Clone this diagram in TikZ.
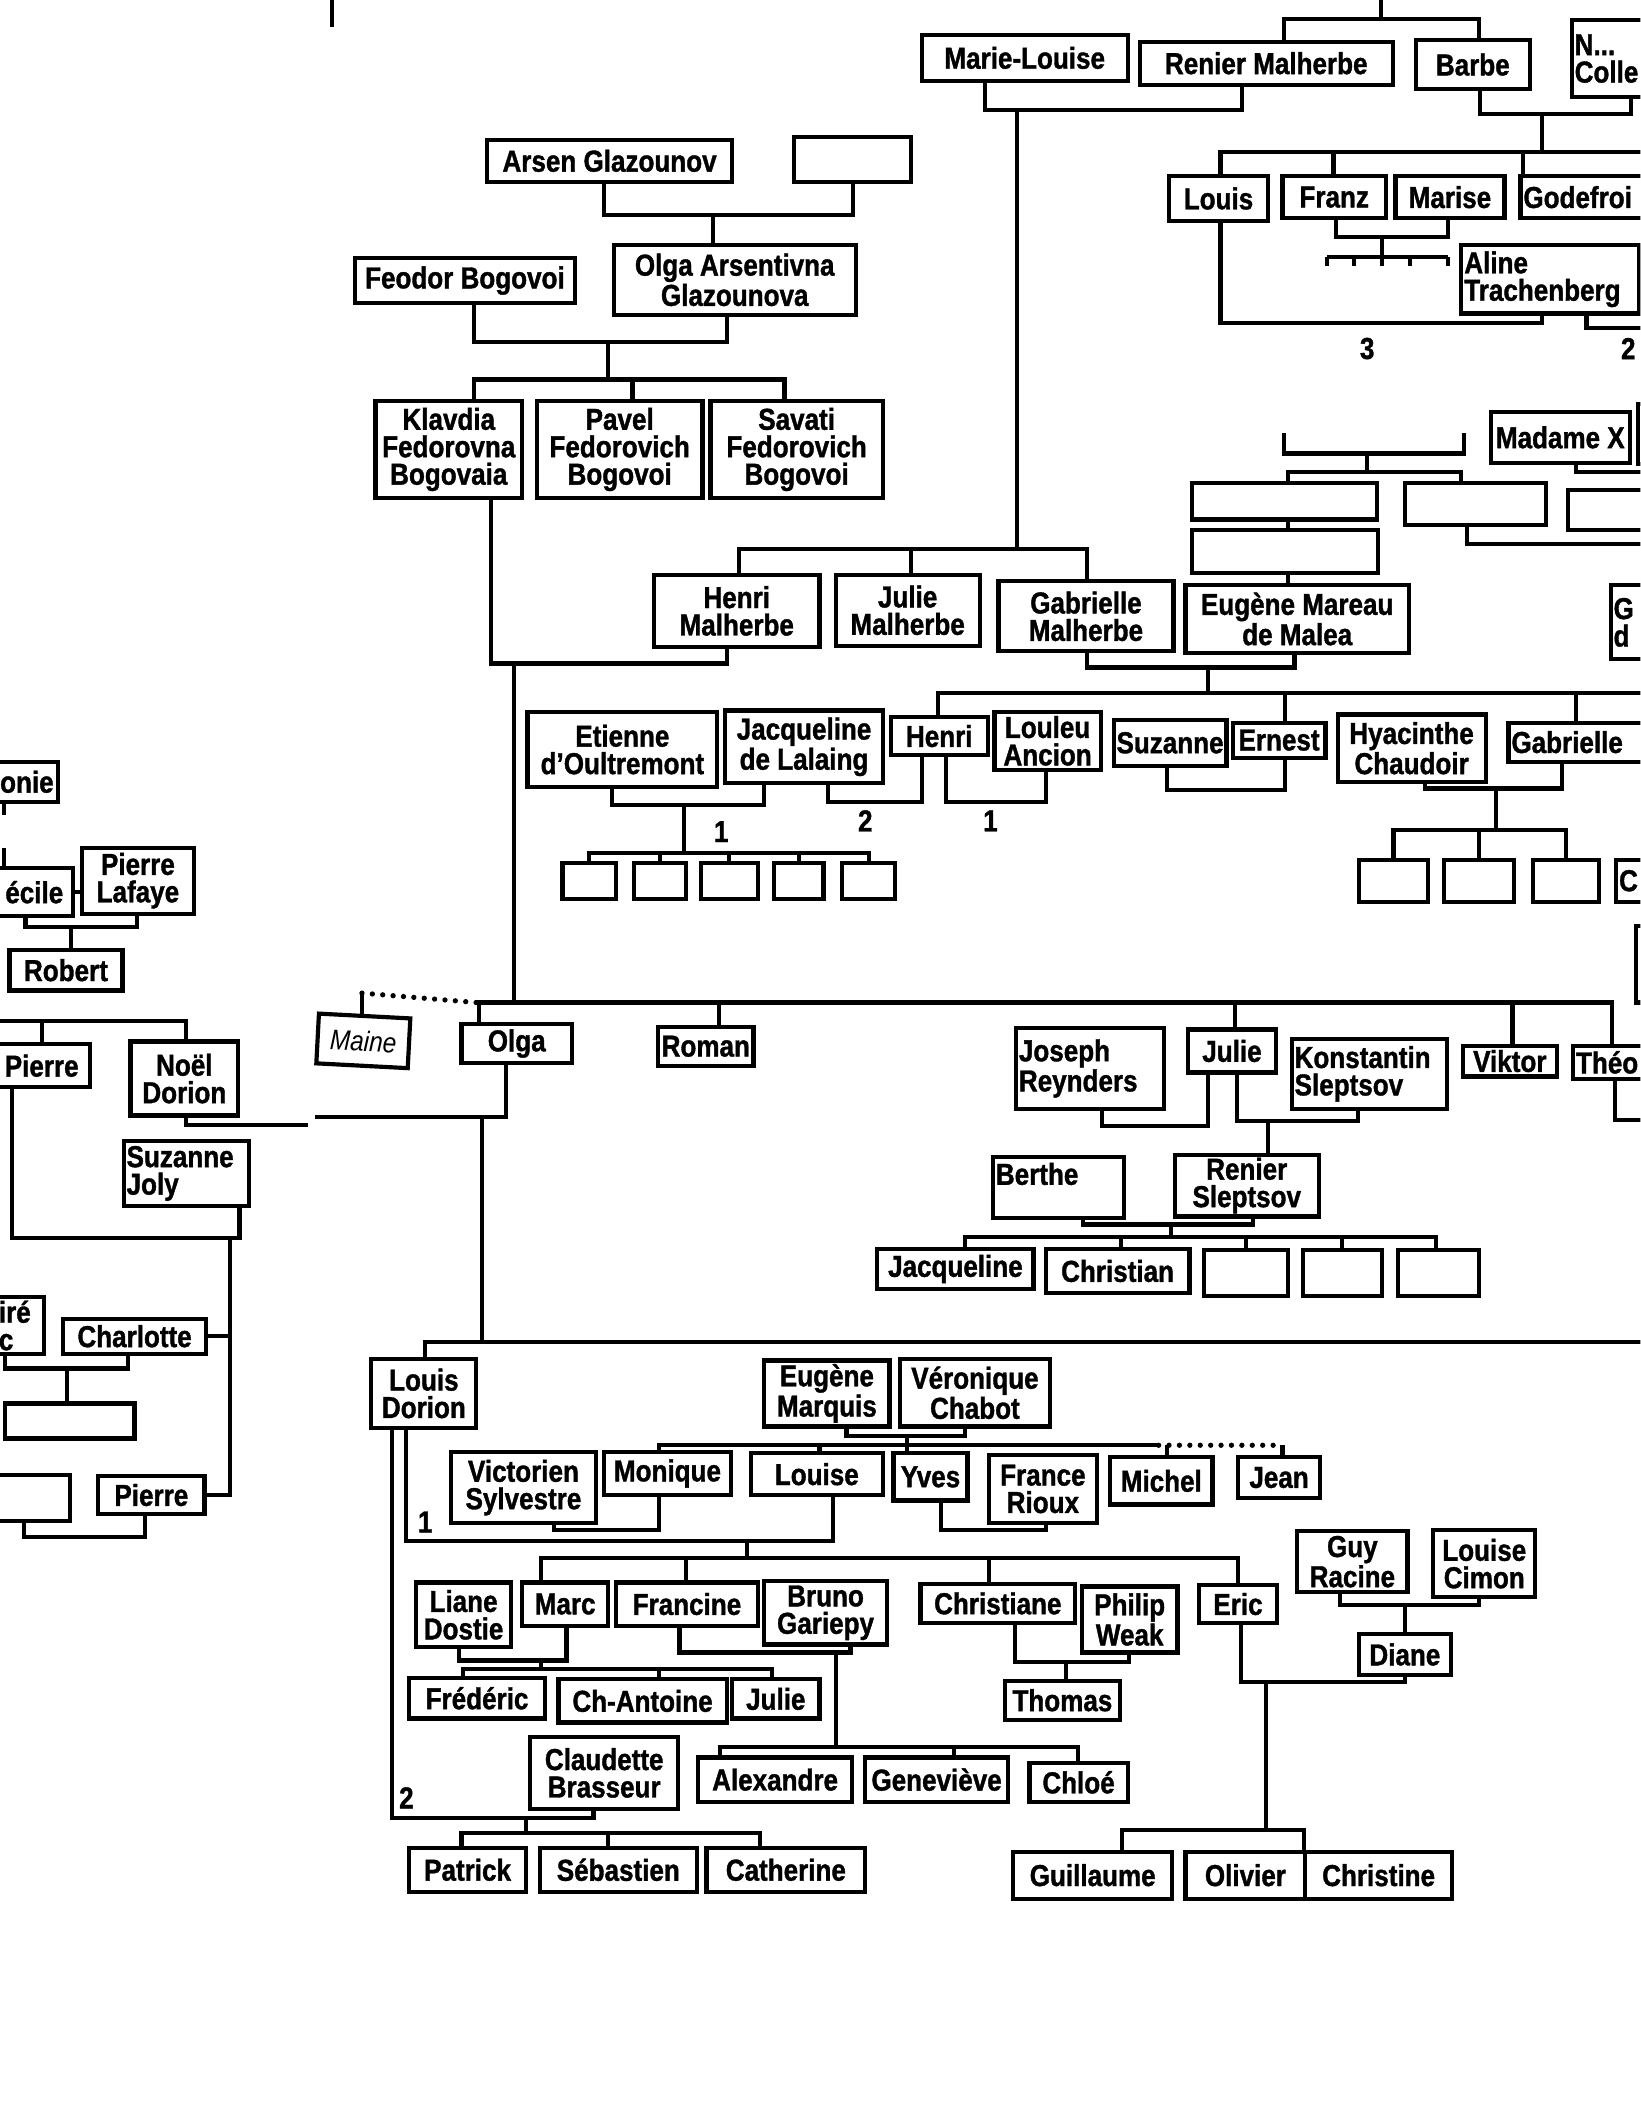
\documentclass[tikz,border=0pt]{standalone}
\usepackage{fontspec}
\setmainfont{Liberation Sans}[FakeStretch=0.86,BoldFeatures={FakeBold=1.2}]
\newcommand\namefont{\bfseries\fontsize{16}{14.5}\selectfont}
\newcommand\tightfont{\bfseries\fontsize{16}{13.5}\selectfont}
\newcommand\mainefont{\normalfont\itshape\fontsize{15}{15}\selectfont}
\newcommand\pers[7][]{%
  \pgfmathsetmacro\boxw{((#5)-(#3))*0.025}%
  \pgfmathsetmacro\boxh{((#6)-(#4))*0.025}%
  \node[person,minimum width=\boxw cm,minimum height=\boxh cm,#1] (#2) at ({((#3)+(#5))/2},{((#4)+(#6))/2}) {#7};}
\begin{document}
\begin{tikzpicture}
[x=0.025cm,y=-0.025cm,line width=2.2pt,
 person/.style={draw,line width=2.2pt,inner xsep=1.5pt,inner ysep=1pt,align=center,font=\namefont},
 num/.style={font=\namefont,inner sep=0pt},
 dotline/.style={line width=2.8pt,dash pattern=on 0pt off 5.5pt,line cap=round}]
\useasboundingbox (0,0) rectangle (1219,1568);
\clip (0,0) rectangle (1219,1568);
% Glazounov - Bogovoi
\pers{arsen}{362}{104}{544}{135}{Arsen Glazounov}
\pers{arsenw}{590}{102}{677}{135}{}
\pers{olgaag}{456}{182}{636}{234}{Olga Arsentivna\\Glazounova}
\pers{feodor}{264}{192}{427}{225}{Feodor Bogovoi}
\pers{klavdia}{279}{298}{388}{370}{Klavdia\\Fedorovna\\Bogovaia}
\pers{pavel}{399}{298}{522}{370}{Pavel\\Fedorovich\\Bogovoi}
\pers{savati}{528}{298}{656}{370}{Savati\\Fedorovich\\Bogovoi}
% Malherbe, top right
\coordinate (top) at (1026,0);
\pers{marielouise}{685}{26}{838}{60}{Marie-Louise}
\pers{renier}{847}{31}{1035}{63}{Renier Malherbe}
\pers{barbe}{1052}{30}{1137}{66}{Barbe}
\pers[text width=1.94cm,align=left]{ncolle}{1168}{15}{1250}{72}{N...\\Colle}
\pers{louis}{869}{131}{942}{164}{Louis}
\pers{franz}{953}{131}{1030}{162}{Franz}
\pers{marise}{1037}{131}{1118}{162}{Marise}
\pers[text width=2.77cm,align=left]{godefroi}{1130}{131}{1245}{162}{Godefroi}
\pers[text width=3.19cm,align=left]{aline}{1086}{182}{1218}{233}{Aline\\Trachenberg}
\pers{madamex}{1108}{306}{1211}{344}{Madame X}
\pers{offr1}{1217}{300}{1245}{345}{}
\pers{blank1}{886}{359}{1023}{386}{}
\pers{blank2}{1044}{359}{1149}{390}{}
\pers{blank3}{1165}{364}{1245}{394}{}
\pers{blank4}{886}{394}{1024}{426}{}
\pers{henrim}{486}{427}{609}{481}{Henri\\Malherbe}
\pers{juliem}{621}{427}{728}{480}{Julie\\Malherbe}
\pers{gabriellem}{742}{432}{872}{484}{Gabrielle\\Malherbe}
\pers{eugenem}{881}{435}{1047}{485}{Eugène Mareau\\de Malea}
\pers[text width=1.22cm,align=left]{gright}{1197}{435}{1250}{490}{G\\d}
\pers{etienne}{392}{529}{533}{585}{Etienne\\d'Oultremont}
\pers{jacquelinel}{539}{528}{656}{582}{Jacqueline\\de Lalaing}
\pers{henri}{662}{533}{734}{561}{Henri}
\pers{louleu}{739}{529}{818}{572}{Louleu\\Ancion}
\pers{suzanne}{828}{535}{911}{569}{Suzanne}
\pers{ernest}{916}{537}{985}{563}{Ernest}
\pers{hyacinthe}{994}{531}{1104}{581}{Hyacinthe\\Chaudoir}
\pers[text width=2.99cm,align=left]{gabrieller}{1121}{537}{1245}{566}{Gabrielle}
\foreach \i/\a/\b in {1/418/458,2/471/510,3/521/563,4/575/612,5/626/665} {\pers{eb\i}{\a}{641}{\b}{668}{}}
\foreach \i/\a/\b in {1/1010/1061,2/1073/1125,3/1139/1188} {\pers{hb\i}{\a}{639}{\b}{670}{}}
\pers[text width=0.99cm,align=left]{hbc}{1201}{639}{1245}{670}{C}
\pers{offr2}{1216}{688}{1245}{745}{}
% generation of Olga
\pers[rotate=-3,font=\mainefont]{maine}{236}{755}{304}{792}{Maine}
\pers{olga}{343}{761}{425}{790}{Olga}
\pers{roman}{489}{763}{560}{792}{Roman}
\pers[text width=2.64cm,align=left]{joseph}{755}{764}{865}{824}{Joseph\\Reynders}
\pers{julie}{883}{765}{948}{797}{Julie}
\pers[text width=2.77cm,align=left]{konstantin}{960}{772}{1075}{824}{Konstantin\\Sleptsov}
\pers{viktor}{1087}{777}{1157}{800}{Viktor}
\pers[text width=1.79cm,align=left]{theo}{1169}{777}{1245}{802}{Théo}
\pers[text width=2.32cm,align=left]{berthe}{738}{860}{835}{905}{Berthe\\~}
\pers{reniers}{873}{858}{980}{904}{Renier\\Sleptsov}
\pers{jacqueline}{652}{928}{768}{958}{Jacqueline}
\pers{christian}{777}{928}{884}{961}{Christian}
\foreach \i/\a/\b in {1/895/957,2/968/1027,3/1039/1099} {\pers{cb\i}{\a}{929}{\b}{963}{}}
% left column
\pers{onie}{-3}{566}{43}{596}{onie}
\pers{cecile}{-3}{645}{54}{681}{écile}
\pers{pierrel}{61}{630}{144}{679}{Pierre\\Lafaye}
\pers{robert}{7}{706}{91}{736}{Robert}
\pers{pierrea}{-5}{776}{67}{808}{Pierre}
\pers{noel}{97}{774}{177}{829}{Noël\\Dorion}
\pers[text width=2.22cm,align=left]{suzannej}{92}{848}{185}{896}{Suzanne\\Joly}
\pers[text width=0.79cm,align=left]{ire}{-3}{964}{33}{1006}{iré\\c}
\pers{charlotte}{47}{980}{153}{1006}{Charlotte}
\pers{lb1}{4}{1043}{100}{1069}{}
\pers{lb2}{-5}{1096}{52}{1130}{}
\pers{pierreb}{73}{1097}{152}{1125}{Pierre}
% Dorion
\pers{louisd}{276}{1010}{354}{1061}{Louis\\Dorion}
\pers{eugenemq}{568}{1011}{661}{1060}{Eugène\\Marquis}
\pers{veronique}{669}{1010}{780}{1060}{Véronique\\Chabot}
\pers{victorien}{335}{1079}{443}{1132}{Victorien\\Sylvestre}
\pers{monique}{449}{1079}{543}{1111}{Monique}
\pers{louise}{558}{1080}{656}{1111}{Louise}
\pers{yves}{664}{1080}{719}{1115}{Yves}
\pers{france}{735}{1081}{815}{1132}{France\\Rioux}
\pers{michel}{825}{1083}{901}{1118}{Michel}
\pers{jean}{920}{1083}{981}{1113}{Jean}
\pers{liane}{309}{1176}{380}{1224}{Liane\\Dostie}
\pers{marc}{388}{1176}{452}{1208}{Marc}
\pers{francine}{458}{1176}{563}{1208}{Francine}
\pers{bruno}{568}{1175}{659}{1222}{Bruno\\Gariepy}
\pers{christiane}{684}{1177}{799}{1206}{Christiane}
\pers{philip}{804}{1179}{875}{1228}{Philip\\Weak}
\pers{eric}{891}{1178}{949}{1206}{Eric}
\pers[font=\tightfont]{guy}{964}{1138}{1046}{1183}{Guy\\Racine}
\pers{louisec}{1065}{1137}{1141}{1187}{Louise\\Cimon}
\pers{diane}{1010}{1214}{1078}{1245}{Diane}
\pers{frederic}{304}{1247}{405}{1277}{Frédéric}
\pers{chantoine}{415}{1248}{540}{1280}{Ch-Antoine}
\pers{juliec}{544}{1248}{609}{1277}{Julie}
\pers{thomas}{747}{1249}{832}{1278}{Thomas}
\pers{claudette}{394}{1291}{504}{1344}{Claudette\\Brasseur}
\pers{alexandre}{519}{1306}{633}{1339}{Alexandre}
\pers{genevieve}{643}{1306}{749}{1339}{Geneviève}
\pers{chloe}{765}{1310}{838}{1339}{Chloé}
\pers{patrick}{304}{1373}{391}{1406}{Patrick}
\pers{sebastien}{401}{1373}{518}{1406}{Sébastien}
\pers{catherine}{525}{1373}{643}{1406}{Catherine}
\pers{guillaume}{753}{1376}{871}{1411}{Guillaume}
\pers{olivier}{881}{1376}{970}{1411}{Olivier}
\pers{christine}{970}{1376}{1079}{1411}{Christine}
% connectors, top left
\draw (247,0) -- (247,20);
\draw (449,0 |- arsen.south) |- (634,160) -- (634,0 |- arsenw.south);
\draw (530,160) -- (530,0 |- olgaag.north);
\draw (352,0 |- feodor.south) |- (540,254) -- (540,0 |- olgaag.south);
\draw (452,254) -- (452,282);
\draw (352,0 |- klavdia.north) |- (583,282) -- (583,0 |- savati.north);
\draw (470,282) -- (470,0 |- pavel.north);
% connectors, top right
\draw (top) -- (1026,14);
\draw (954,0 |- renier.north) |- (1099,14) -- (1099,0 |- barbe.north);
\draw (732,0 |- marielouise.south) |- (923,82) -- (923,0 |- renier.south);
\draw (1100,0 |- barbe.south) |- (1212,85) -- (1212,0 |- ncolle.south);
\draw (1146,85) -- (1146,113);
\draw (907,0 |- louis.north) |- (1225,113);
\draw (991,113) -- (991,0 |- franz.north);
\draw (1132,113) -- (1132,0 |- godefroi.north);
\draw (993,0 |- franz.south) |- (1076,176) -- (1076,0 |- marise.south);
\draw (1027,176) -- (1027,191);
\draw (986,191) -- (1076,191);
\foreach \t in {986,1006,1027,1048,1076} \draw (\t,191) -- (\t,198);
\draw (907,0 |- louis.south) |- (1146,240) -- (1146,0 |- aline.south);
\draw (1179,0 |- aline.south) |- (1225,244);
\node[num] (n3) at (1016,259) {3};
\node[num] (n2a) at (1210,259) {2};
\draw (954,322) |- (1088,337) -- (1088,322);
\draw (1016,337) -- (1016,351);
\draw (957,0 |- blank1.north) |- (1086,351) -- (1086,0 |- blank2.north);
\draw (957,0 |- blank1.south) -- (957,0 |- blank4.north);
\draw (957,0 |- blank4.south) -- (957,0 |- eugenem.north);
\draw (1171,0 |- madamex.south) |- (1225,351);
\draw (1090,0 |- blank2.south) |- (1225,404);
% connectors, Malherbe children
\draw (756,82) -- (756,408);
\draw (549,0 |- henrim.north) |- (808,408) -- (808,0 |- gabriellem.north);
\draw (677,408) -- (677,0 |- juliem.north);
\draw (365,0 |- klavdia.south) |- (540,493) -- (540,0 |- henrim.south);
\draw (382,493) -- (382,745);
\draw (808,0 |- gabriellem.south) |- (962,496) -- (962,0 |- eugenem.south);
\draw (898,496) -- (898,515);
\draw (697,0 |- henri.north) |- (1225,515);
\draw (955,515) -- (955,0 |- ernest.north);
\draw (1171,515) -- (1171,0 |- gabrieller.north);
\draw (455,0 |- etienne.south) |- (568,598) -- (568,0 |- jacquelinel.south);
\draw (508,598) -- (508,634);
\draw (eb1.north) |- (508,634) -| (eb5.north);
\foreach \b in {eb2,eb3,eb4} \draw (\b.north) -- (\b.north |- 0,634);
\draw (615,0 |- jacquelinel.south) |- (685,596) -- (685,0 |- henri.south);
\draw (703,0 |- henri.south) |- (777,596) -- (777,0 |- louleu.south);
\draw (867,0 |- suzanne.south) |- (955,587) -- (955,0 |- ernest.south);
\draw (1059,0 |- hyacinthe.south) |- (1161,586) -- (1161,0 |- gabrieller.south);
\draw (1112,586) -- (1112,617);
\draw (hb1.north) |- (1112,617) -| (hb3.north);
\draw (hb2.north) -- (hb2.north |- 0,617);
\node[num] (n1a) at (536,618) {1};
\node[num] (n2b) at (643,610) {2};
\node[num] (n1b) at (736,610) {1};
% connectors, Olga's generation
\draw (356,0 |- olga.north) |- (1198,745) -- (1198,0 |- theo.north);
\draw (534,745) -- (534,0 |- roman.north);
\draw (918,745) -- (918,0 |- julie.north);
\draw (1124,745) -- (1124,0 |- viktor.north);
\draw (269,0 |- maine.north) -- (269,738);
\draw[dotline] (269,738) -- (354,745);
\draw (1200,0 |- theo.south) |- (1225,832);
\draw (819,0 |- joseph.south) |- (898,837) -- (898,0 |- julie.south);
\draw (919,0 |- julie.south) |- (1009,833) -- (1009,0 |- konstantin.south);
\draw (942,833) -- (942,0 |- reniers.north);
\draw (805,0 |- berthe.south) |- (931,910) -- (931,0 |- reniers.south);
\draw (870,910) -- (870,919);
\draw (717,0 |- jacqueline.north) |- (1067,919) -- (1067,0 |- cb3.north);
\draw (833,919) -- (833,0 |- christian.north);
\draw (926,919) -- (926,0 |- cb1.north);
\draw (997,919) -- (997,0 |- cb2.north);
% connectors, left column
\draw (3,0 |- onie.south) -- (3,606);
\draw (3,0 |- cecile.north) -- (3,630);
\draw (cecile.east) -- (cecile.east -| pierrel.west);
\draw (19,0 |- cecile.south) |- (102,689) -- (102,0 |- pierrel.south);
\draw (53,689) -- (53,0 |- robert.north);
\draw (-5,759) -| (138,0 |- noel.north);
\draw (31,759) -- (31,0 |- pierrea.north);
\draw (138,0 |- noel.south) |- (229,836);
\draw (376,0 |- olga.south) |- (234,830);
\draw (358,830) -- (358,997);
\draw (9,0 |- pierrea.south) |- (178,920) -- (178,0 |- suzannej.south);
\draw (171,920) |- (pierreb.east);
\draw (charlotte.east) -- (charlotte.east -| 171,0);
\draw (4,0 |- ire.south) |- (95,1017) -- (95,0 |- charlotte.south);
\draw (50,1017) -- (50,0 |- lb1.north);
\draw (18,0 |- lb2.south) |- (108,1142) -- (108,0 |- pierreb.south);
% connectors, Dorion
\draw (316,0 |- louisd.north) |- (1225,997);
\draw (629,0 |- eugenemq.south) |- (717,1067) -- (717,0 |- veronique.south);
\draw (674,1067) -- (674,0 |- yves.north);
\draw (490,0 |- monique.north) |- (861,1074);
\draw[dotline] (861,1074) -- (953,1074);
\draw (953,1074) -- (953,0 |- jean.north);
\draw (609,1074) -- (609,0 |- louise.north);
\draw (867,1074) -- (867,0 |- michel.north);
\draw (412,0 |- victorien.south) |- (490,1137) -- (490,0 |- monique.south);
\draw (699,0 |- yves.south) |- (777,1137) -- (777,0 |- france.south);
\draw (302,0 |- louisd.south) |- (619,1145) -- (619,0 |- louise.south);
\node[num] (n1c) at (316,1131) {1};
\draw (555,1145) -- (555,1158);
\draw (402,0 |- marc.north) |- (920,1158) -- (920,0 |- eric.north);
\draw (510,1158) -- (510,0 |- francine.north);
\draw (735,1158) -- (735,0 |- christiane.north);
\draw (996,0 |- guy.south) |- (1099,1193) -- (1099,0 |- louisec.south);
\draw (1044,1193) -- (1044,0 |- diane.north);
\draw (922,0 |- eric.south) |- (1044,1250) -- (1044,0 |- diane.south);
\draw (941,1250) -- (941,1360);
\draw (834,0 |- guillaume.north) |- (969,1360) -- (969,0 |- olivier.north);
\draw (341,0 |- liane.south) |- (421,1234) -- (421,0 |- marc.south);
\draw (402,1234) -- (402,1240);
\draw (344,0 |- frederic.north) |- (574,1240) -- (574,0 |- juliec.north);
\draw (490,1240) -- (490,0 |- chantoine.north);
\draw (505,0 |- francine.south) |- (632,1228) -- (632,0 |- bruno.south);
\draw (621,1228) -- (621,1298);
\draw (535,0 |- alexandre.north) |- (801,1298) -- (801,0 |- chloe.north);
\draw (709,1298) -- (709,0 |- genevieve.north);
\draw (754,0 |- christiane.south) |- (839,1235) -- (839,0 |- philip.south);
\draw (792,1235) -- (792,0 |- thomas.north);
\draw (291,0 |- louisd.south) |- (441,1351) -- (441,0 |- claudette.south);
\node[num] (n2c) at (302,1336) {2};
\draw (391,1351) -- (391,1362);
\draw (343,0 |- patrick.north) |- (565,1362) -- (565,0 |- catherine.north);
\draw (452,1362) -- (452,0 |- sebastien.north);
\end{tikzpicture}
\end{document}
